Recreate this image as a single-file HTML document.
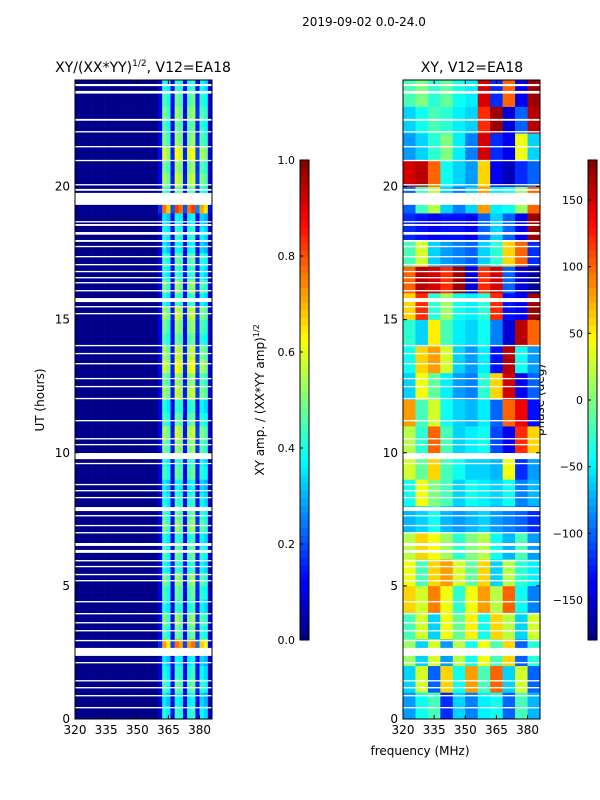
<!DOCTYPE html>
<html><head><meta charset="utf-8">
<style>
html,body{margin:0;padding:0;background:#fff;}
svg{display:block;font-family:"DejaVu Sans","Liberation Sans",sans-serif;}
</style></head>
<body>
<svg id="fig" width="600" height="800" viewBox="0 0 600 800">
<text x="364" y="26" font-size="12" text-anchor="middle">2019-09-02 0.0-24.0</text>
<text x="143" y="72" font-size="14" text-anchor="middle">XY/(XX*YY)<tspan font-size="9" dy="-6">1/2</tspan><tspan dy="6">, V12=EA18</tspan></text>
<text x="472" y="72" font-size="14" text-anchor="middle">XY, V12=EA18</text>
<text x="44" y="400" font-size="12" text-anchor="middle" transform="rotate(-90 44 400)">UT (hours)</text>
<text x="420" y="755" font-size="12" text-anchor="middle">frequency (MHz)</text>
<text x="264" y="400" font-size="12" text-anchor="middle" transform="rotate(-90 264 400)">XY amp. / (XX*YY amp)<tspan font-size="8" dy="-5">1/2</tspan></text>
<text x="544" y="400" font-size="12" text-anchor="middle" transform="rotate(-90 544 400)">phase (deg)</text>
<g id="amp"></g>
<g id="phase"></g>
<g id="axes"></g>
</svg>
<script>
const ampFreqStart = 320, freqStep = 2;
const ampCols = [0.01,0.01,0.01,0.01,0.01,0.01,0.01,0.01,0.01,0.01,0.01,0.01,0.01,0.01,0.01,0.01,0.01,0.01,0.01,0.01,0.1,0.45,0.4,0.12,0.48,0.45,0.12,0.45,0.48,0.15,0.42,0.38,0.08];
const ampRowGain = [0.9,0.8,1.0,0.9,0.8,1.6,1.0,1.1,0.9,1.0,1.1,0.9,1.0,0.9,1.1,1.0,0.9,0.8,1.0,0.9,1.1,1.2,1.0,0.9,1.2,1.1,1.3,1.2,1.0,1.1,1.2,0.9,1.1,0.9,1.0,0.8,0.9,0.8,1.7,1.0,1.2,1.1,1.3,1.1,1.0,1.1,1.0,0.9];
const phaseFreqStep = 6;
const phase = [
[-80,-40,-20,-120,-60,-90,-50,-40,-100,-20,-70],
[-60,30,-100,60,-40,80,-20,100,-60,30,-100],
[10,-60,30,-80,20,-40,40,-20,60,-100,-30],
[-20,30,-60,40,-10,50,-40,60,20,-60,30],
[60,30,90,40,-30,40,80,20,100,-40,-90],
[40,-20,60,80,30,-10,60,-60,20,-30,-50],
[20,60,40,10,-30,0,20,-40,-70,-20,-80],
[-70,-60,-40,-70,-80,-70,-60,-80,-90,-100,-120],
[-40,40,0,-20,-60,-40,-50,-60,-40,-90,-70],
[30,-10,60,-20,-40,-60,-60,-70,40,-120,-80],
[20,-30,100,-20,-60,-50,-40,-110,-140,120,60],
[80,-20,30,-40,-60,-70,-50,-100,100,140,-130],
[-60,40,-10,-50,-80,-90,-30,60,150,-140,-100],
[-40,60,80,30,-60,-80,-50,-130,160,-40,-80],
[-30,-60,50,-20,-50,-60,-40,-90,-150,160,100],
[60,120,-30,10,-40,-50,-30,120,-130,-140,170],
[100,160,150,120,170,-150,120,150,-100,-150,-170],
[-20,30,-60,-80,-90,-100,-60,-30,60,100,-120],
[-120,-130,-140,-130,-130,-140,-100,-60,-100,-140,170],
[-100,-20,20,-60,-90,-60,80,-50,-40,10,100],
[150,160,100,-40,-60,-80,60,-140,-160,-120,-100],
[-80,-60,-30,0,-50,-90,150,-120,-140,40,-60],
[-60,-40,-20,-30,-50,-60,120,170,-150,-100,160],
[-20,0,-30,-10,-40,-50,150,-120,100,-140,170]
];
// gaps: [top hour, thickness hours]
const gaps = [[23.85,0.08],[23.59,0.1],[22.54,0.07],[22.08,0.05],[21.52,0.05],[21.0,0.05],[20.09,0.05],[19.91,0.07],[19.76,0.45],[18.7,0.05],[18.59,0.07],[18.29,0.1],[17.99,0.07],[17.77,0.05],[17.39,0.05],[17.09,0.05],[16.83,0.05],[16.6,0.05],[16.41,0.05],[16.11,0.05],[15.81,0.15],[15.51,0.05],[15.25,0.05],[14.05,0.05],[13.75,0.05],[13.37,0.05],[12.81,0.05],[12.51,0.05],[12.06,0.05],[11.23,0.05],[10.55,0.05],[10.33,0.05],[9.99,0.23],[9.62,0.05],[8.83,0.05],[8.6,0.05],[8.34,0.05],[7.96,0.15],[7.66,0.05],[7.29,0.05],[7.02,0.05],[6.61,0.11],[6.35,0.11],[5.97,0.05],[5.75,0.05],[5.45,0.05],[5.22,0.05],[4.43,0.05],[3.98,0.05],[3.64,0.05],[3.34,0.05],[2.97,0.05],[2.67,0.3],[2.14,0.05],[1.46,0.05],[1.2,0.05],[0.9,0.05],[0.45,0.05]];
const xTicks = [320,335,350,365,380];
const yTicks = [0,5,10,15,20];
const ampTicks = [0.0,0.2,0.4,0.6,0.8,1.0];
const phaseTicks = [-150,-100,-50,0,50,100,150];

const NS="http://www.w3.org/2000/svg";
function jet(v){v=Math.max(0,Math.min(1,v));
 const r=Math.max(0,Math.min(1,1.5-Math.abs(4*v-3))),g=Math.max(0,Math.min(1,1.5-Math.abs(4*v-2))),b=Math.max(0,Math.min(1,1.5-Math.abs(4*v-1)));
 return `rgb(${Math.round(r*255)},${Math.round(g*255)},${Math.round(b*255)})`;}
function mk(tag,attrs,parent){const e=document.createElementNS(NS,tag);for(const k in attrs)e.setAttribute(k,attrs[k]);parent.appendChild(e);return e;}
const Y0=80,Y1=719,FMIN=320,FMAX=386;
function panelX(x0){return f=>x0+(f-FMIN)*137/(FMAX-FMIN);}
const yS=h=>Y1-h*(Y1-Y0)/24;
const xa=panelX(75), xp=panelX(403);
const gAmp=document.getElementById('amp'), gPh=document.getElementById('phase'), gAx=document.getElementById('axes');
const rowH=24/ampRowGain.length;
ampRowGain.forEach((gn,r)=>{ampCols.forEach((a,c)=>{
 const f0=ampFreqStart+c*freqStep;
 const e=mk('rect',{x:xa(f0),y:yS((r+1)*rowH),width:xa(f0+freqStep)-xa(f0)+0.3,height:yS(r*rowH)-yS((r+1)*rowH)+0.3,fill:jet(a*gn)},gAmp);
 
 
});});
phase.forEach((row,r)=>{row.forEach((p,c)=>{
 const f0=FMIN+c*phaseFreqStep;
 const e=mk('rect',{x:xp(f0),y:yS(r+1),width:xp(f0+phaseFreqStep)-xp(f0)+0.3,height:yS(r)-yS(r+1)+0.3,fill:jet((p+180)/360)},gPh);
 
 
});});
[[xa,gAmp],[xp,gPh]].forEach(([xs,g])=>{gaps.forEach(([h,t])=>{
 const e=mk('rect',{x:xs(FMIN),y:yS(h),width:137,height:Math.max(1.3,yS(h-t)-yS(h)),fill:'#fff'},g);
 
 
});});
[[75,xa,'amp'],[403,xp,'phase']].forEach(([x0,xs,nm])=>{
 const fr=mk('rect',{x:x0,y:Y0,width:137,height:Y1-Y0,fill:'none',stroke:'#000','stroke-width':1},gAx);
 
 
 xTicks.forEach(t=>{const x=xs(t);
  mk('line',{x1:x,x2:x,y1:Y1,y2:Y1-4,stroke:'#000'},gAx);mk('line',{x1:x,x2:x,y1:Y0,y2:Y0+4,stroke:'#000'},gAx);
  const l=mk('text',{x:x,y:Y1+15,'font-size':12,'text-anchor':'middle'},gAx);l.textContent=t;
  
  });
 yTicks.forEach(t=>{const y=yS(t);
  mk('line',{x1:x0,x2:x0+4,y1:y,y2:y,stroke:'#000'},gAx);mk('line',{x1:x0+137,x2:x0+133,y1:y,y2:y,stroke:'#000'},gAx);
  const l=mk('text',{x:x0-5,y:y+4,'font-size':12,'text-anchor':'end'},gAx);l.textContent=t;
  
  });
});
function colorbar(x0,ticks,vmin,vmax,nm,fmt){
 const C0=160,C1=640,n=64;
 for(let i=0;i<n;i++){const e=mk('rect',{x:x0,y:C1-(i+1)*(C1-C0)/n,width:9,height:(C1-C0)/n+0.4,fill:jet((i+0.5)/n)},gAx);
  
  }
 const fr=mk('rect',{x:x0,y:C0,width:9,height:C1-C0,fill:'none',stroke:'#000'},gAx);
 
 
 ticks.forEach(t=>{const y=C1-(t-vmin)/(vmax-vmin)*(C1-C0);
  mk('line',{x1:x0,x2:x0+3,y1:y,y2:y,stroke:'#000'},gAx);
  const l=mk('text',{x:x0-5,y:y+4,'font-size':11,'text-anchor':'end'},gAx);l.textContent=fmt(t);
  
  });
}
colorbar(300,ampTicks,0,1,'amp',t=>t.toFixed(1));
colorbar(588,phaseTicks,-180,180,'phase',t=>t<0?'\u2212'+(-t):String(t));
</script>
</body></html>
